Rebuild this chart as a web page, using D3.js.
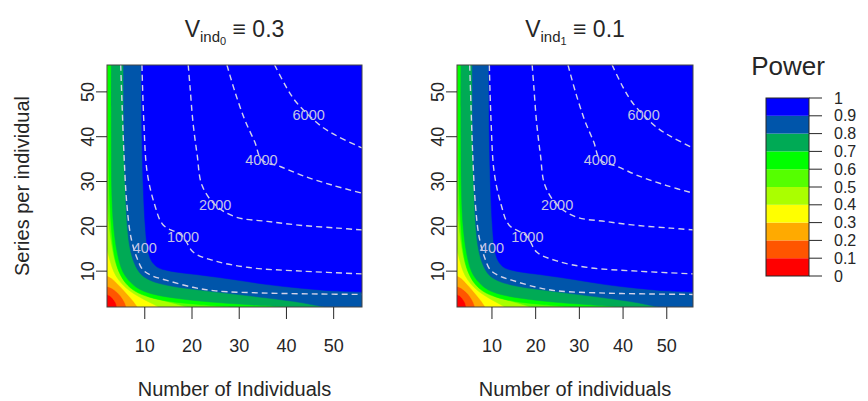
<!DOCTYPE html>
<html><head><meta charset="utf-8">
<script src="https://cdn.jsdelivr.net/npm/d3@7"></script>
<style>body{margin:0;background:#fff}</style>
</head><body>
<svg id="chart" width="868" height="401"></svg>
<script>
// ---- data ----
const powerLevels = [0,0.1,0.2,0.3,0.4,0.5,0.6,0.7,0.8,0.9,1];
const levelColors = ["#FF0000","#FF5500","#FFAA00","#FFFF00","#AAFF00","#55FF00","#00FF00","#00AA55","#0055AA","#0000FF"];
const legendTicks = ["0","0.1","0.2","0.3","0.4","0.5","0.6","0.7","0.8","0.9","1"];
const xTicks = [10,20,30,40,50];
const yTicks = [10,20,30,40,50];
const xDomain = [2,56];
const yDomain = [2,56];
// power contour boundaries [individuals, series per individual]
const contour01 = [[2,4.8],[2.6,4.5],[3.2,3.9],[3.8,3],[4.1,2]];
const contour02 = [[2,6.6],[3,6.2],[4,5.4],[5,4.3],[5.7,3.1],[6.1,2]];
const contour03 = [[2,9],[3,8.4],[4.2,7.2],[5.5,5.8],[6.6,4.5],[7.6,3.3],[8.5,2]];
const contour04 = [[2,15],[2.6,12.5],[3.4,10],[4.5,8],[6,6.3],[7.8,4.9],[9.8,3.7],[11.5,2.8],[13,2]];
const contour05 = [[2,28],[2.4,21],[3,16],[3.8,12],[5,9],[6.8,6.8],[9,5.2],[12,4],[15.5,3],[19,2]];
const contour06 = [[2.2,56],[2.3,40],[2.5,28],[2.9,20],[3.5,14],[4.5,10],[6,7.3],[8,5.5],[11,4.2],[15,3.3],[21,2.6],[28,2]];
const contour07 = [[2.9,56],[2.9,40],[3.0,28],[3.4,20],[4.2,14],[5.3,10],[7,7.5],[9,5.9],[12,4.8],[17,3.9],[24,3.1],[32,2.5],[40,2]];
const contour08 = [[5.5,56],[5.6,40],[5.9,28],[6.3,20],[6.9,15],[7.9,11.5],[9.3,9.2],[11.5,7.8],[15,6.8],[20,6],[28,5],[36,4],[43,3],[48,2]];
const contour09 = [[9.3,56],[9.4,40],[9.7,28],[10.1,20],[10.6,15],[11.4,12.3],[12.8,10.8],[15,10.1],[18,9.6],[22,9.1],[29,8.1],[36,7.0],[43,6.2],[50,5.6],[56,5.3]];
const powerContours = [contour01,contour02,contour03,contour04,contour05,contour06,contour07,contour08,contour09];
// dashed cost contours
const costValues = [400,1000,2000,4000,6000];
const cost400 = [[4.9,56],[5.2,47],[5.6,36],[6.2,25],[7.1,17.4],[8.4,12.8],[9.6,10.3],[11.5,9.0],[14.5,8],[20.2,6.4],[25,5.6],[36,5.1],[47,4.9],[56,4.8]];
const cost1000 = [[9.4,56],[9.8,43.3],[10.5,32.1],[12.1,24.8],[13.9,20.3],[17.9,17.9],[20.3,14.2],[24.8,12.3],[32.1,10.8],[43.3,10],[56,9.4]];
const cost2000 = [[19.2,56],[19.6,50.9],[20.2,43.3],[21.1,35.9],[22.1,29.2],[24.9,24.8],[29.2,22.1],[35.9,21.1],[43.3,20.2],[50.9,19.6],[56,19.2]];
const cost4000 = [[27.4,56],[29.1,50],[31.2,43.7],[33.3,38.8],[34.8,34.8],[38.8,33.3],[43.7,31.2],[50,29.1],[56,27.4]];
const cost6000 = [[37.5,56],[40,51],[42,47.8],[44.7,44.8],[47.8,42],[51,40],[56,37.5]];
const costLines = [cost400,cost1000,cost2000,cost4000,cost6000];
const costLabelPos = [[10,15.2],[18.1,17.6],[24.9,24.8],[34.7,34.8],[44.7,44.8]];

const panels = [
  {x0:107, x1:362, sub:"0", val:"0.3", xlabel:"Number of Individuals", ylabel:true},
  {x0:457, x1:693, sub:"1", val:"0.1", xlabel:"Number of individuals", ylabel:false}
];
const plotTop = 65, plotBottom = 307;
const FONT = "'Liberation Sans', Arial, Helvetica, sans-serif";
const INK = "#262626";

const svg = d3.select("#chart");

panels.forEach((p, pi) => {
  const x = d3.scaleLinear().domain(xDomain).range([p.x0, p.x1]);
  const y = d3.scaleLinear().domain(yDomain).range([plotBottom, plotTop]);
  const g = svg.append("g");
  const clipId = "clip" + pi;
  g.append("clipPath").attr("id", clipId).append("rect")
    .attr("x", p.x0).attr("y", plotTop).attr("width", p.x1 - p.x0).attr("height", plotBottom - plotTop);
  const pg = g.append("g").attr("clip-path", `url(#${clipId})`);
  pg.append("rect").attr("x", p.x0).attr("y", plotTop).attr("width", p.x1 - p.x0).attr("height", plotBottom - plotTop)
    .attr("fill", levelColors[0]);
  const line = d3.line().x(d => x(d[0])).y(d => y(d[1])).curve(d3.curveCatmullRom.alpha(0.5));
  powerContours.forEach((pts, i) => {
    const A = pts[0], B = pts[pts.length - 1];
    const corners = [];
    if (B[1] <= yDomain[0]) corners.push([xDomain[1], yDomain[0]]);
    corners.push([xDomain[1], yDomain[1]]);
    if (A[0] <= xDomain[0]) corners.push([xDomain[0], yDomain[1]]);
    const d = line(pts) + corners.map(c => `L${x(c[0])},${y(c[1])}`).join("") + "Z";
    pg.append("path").attr("d", d).attr("fill", levelColors[i + 1]).attr("stroke", levelColors[i + 1]).attr("stroke-width", 0.5);
  });
  costLines.forEach((pts, i) => {
    pg.append("path").attr("d", line(pts)).attr("fill", "none")
      .attr("stroke", "#D2D2E8").attr("stroke-width", 1.4).attr("stroke-dasharray", "6,4");
  });
  costLabelPos.forEach((c, i) => {
    pg.append("text").attr("x", x(c[0])).attr("y", y(c[1]))
      .attr("text-anchor", "middle").attr("dominant-baseline", "central")
      .attr("font-family", FONT).attr("font-size", 14.5).attr("fill", "#C4C4E6")
      .text(costValues[i]);
  });
  g.append("rect").attr("x", p.x0).attr("y", plotTop).attr("width", p.x1 - p.x0).attr("height", plotBottom - plotTop)
    .attr("fill", "none").attr("stroke", "#444").attr("stroke-width", 1);
  // x axis
  xTicks.forEach(t => {
    g.append("line").attr("x1", x(t)).attr("x2", x(t)).attr("y1", plotBottom).attr("y2", plotBottom + 12)
      .attr("stroke", INK).attr("stroke-width", 1);
    g.append("text").attr("x", x(t)).attr("y", 352).attr("text-anchor", "middle")
      .attr("font-family", FONT).attr("font-size", 18).attr("fill", INK).text(t);
  });
  g.append("text").attr("x", (p.x0 + p.x1) / 2).attr("y", 396).attr("text-anchor", "middle")
    .attr("font-family", FONT).attr("font-size", 20).attr("fill", INK).text(p.xlabel);
  // y axis
  yTicks.forEach(t => {
    g.append("line").attr("x1", p.x0).attr("x2", p.x0 - 11).attr("y1", y(t)).attr("y2", y(t))
      .attr("stroke", INK).attr("stroke-width", 1);
    g.append("text").attr("transform", `translate(${p.x0 - 13},${y(t)}) rotate(-90)`)
      .attr("text-anchor", "middle").attr("font-family", FONT).attr("font-size", 18).attr("fill", INK).text(t);
  });
  if (p.ylabel) {
    g.append("text").attr("transform", `translate(29,${(plotTop + plotBottom) / 2}) rotate(-90)`)
      .attr("text-anchor", "middle").attr("font-family", FONT).attr("font-size", 20).attr("fill", INK)
      .text("Series per individual");
  }
  // title
  const tt = g.append("text").attr("x", (p.x0 + p.x1) / 2).attr("y", 37).attr("text-anchor", "middle")
    .attr("font-family", FONT).attr("font-size", 23).attr("fill", INK);
  tt.append("tspan").text("V");
  tt.append("tspan").attr("font-size", 15).attr("dy", 5).text("ind");
  tt.append("tspan").attr("font-size", 11).attr("dy", 3).text(p.sub);
  tt.append("tspan").attr("dy", -8).text(" \u2261 " + p.val);
});

// legend
const lx0 = 766, lx1 = 809, ly0 = 98, ly1 = 276;
const ly = d3.scaleLinear().domain([0, 1]).range([ly1, ly0]);
const lg = svg.append("g");
levelColors.forEach((c, i) => {
  lg.append("rect").attr("x", lx0).attr("y", ly(powerLevels[i + 1])).attr("width", lx1 - lx0)
    .attr("height", ly(powerLevels[i]) - ly(powerLevels[i + 1])).attr("fill", c);
});
lg.append("rect").attr("x", lx0).attr("y", ly0).attr("width", lx1 - lx0).attr("height", ly1 - ly0)
  .attr("fill", "none").attr("stroke", INK).attr("stroke-width", 1);
powerLevels.forEach((v, i) => {
  lg.append("line").attr("x1", lx1).attr("x2", lx1 + 13).attr("y1", ly(v)).attr("y2", ly(v))
    .attr("stroke", INK).attr("stroke-width", 1);
  lg.append("text").attr("x", 834).attr("y", ly(v)).attr("dominant-baseline", "central")
    .attr("font-family", FONT).attr("font-size", 16).attr("fill", INK).text(legendTicks[i]);
});
lg.append("text").attr("x", 788).attr("y", 75).attr("text-anchor", "middle")
  .attr("font-family", FONT).attr("font-size", 26).attr("fill", INK).text("Power");
</script>
</body></html>
